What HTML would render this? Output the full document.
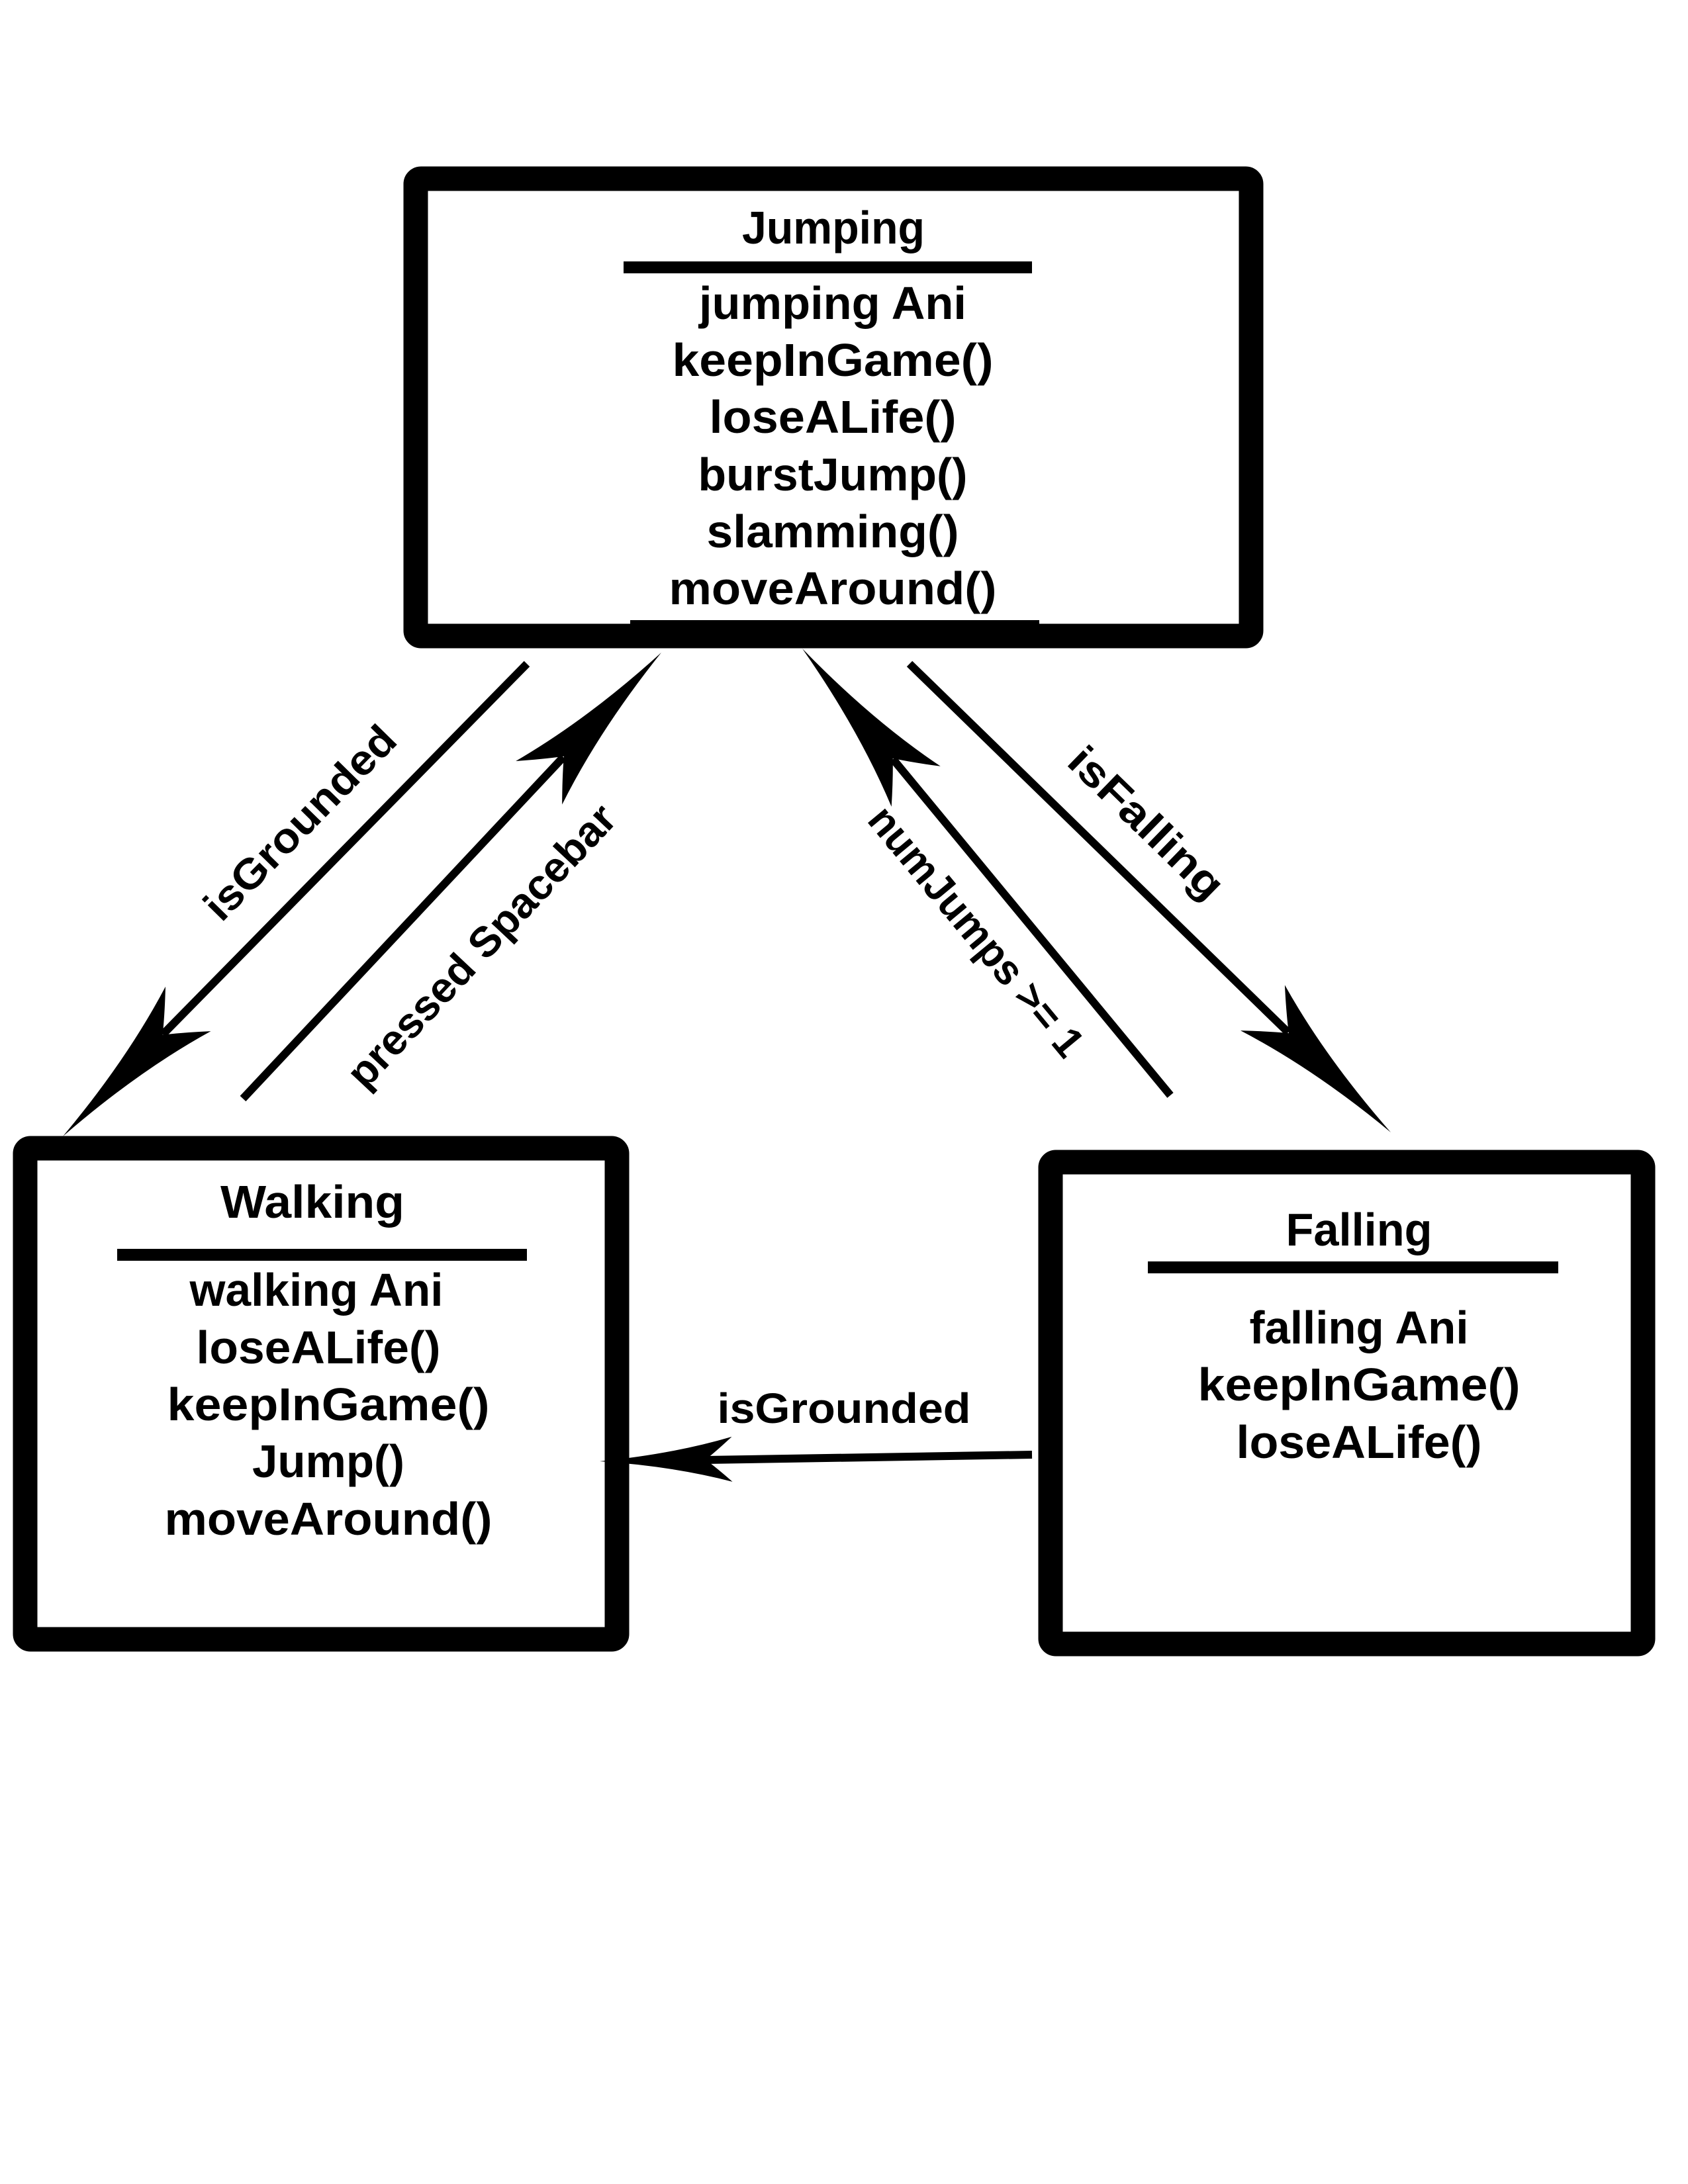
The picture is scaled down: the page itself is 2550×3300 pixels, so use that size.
<!DOCTYPE html>
<html><head><meta charset="utf-8"><style>
html,body{margin:0;padding:0;background:#fff}
svg{display:block}
text{font-family:"Liberation Sans",sans-serif;font-weight:bold;fill:#000}
</style></head><body>
<svg width="2550" height="3300" viewBox="0 0 2550 3300" xmlns="http://www.w3.org/2000/svg">
<defs>
<path id="ah" d="M0,0 Q-150,-12 -270,-48 Q-240,-20 -215,0 Q-240,20 -270,48 Q-150,12 0,0 Z"/>
<path id="ahs" d="M0,0 Q-110,-9 -200,-34 Q-178,-14 -160,0 Q-178,14 -200,34 Q-110,9 0,0 Z"/>
</defs>
<rect x="628" y="270" width="1262" height="691" rx="8" fill="none" stroke="#000" stroke-width="37"/>
<rect x="38" y="1735" width="894" height="742" rx="8" fill="none" stroke="#000" stroke-width="37"/>
<rect x="1587" y="1756" width="895" height="728" rx="8" fill="none" stroke="#000" stroke-width="37"/>

<text x="1259" y="368" font-size="70" text-anchor="middle" textLength="276" lengthAdjust="spacingAndGlyphs">Jumping</text>
<rect x="942" y="395" width="617" height="18"/>
<text x="1258" y="482" font-size="70" text-anchor="middle" textLength="404" lengthAdjust="spacingAndGlyphs">jumping Ani</text>
<text x="1258" y="568" font-size="70" text-anchor="middle" textLength="485" lengthAdjust="spacingAndGlyphs">keepInGame()</text>
<text x="1258" y="654" font-size="70" text-anchor="middle" textLength="373" lengthAdjust="spacingAndGlyphs">loseALife()</text>
<text x="1258" y="741" font-size="70" text-anchor="middle" textLength="407" lengthAdjust="spacingAndGlyphs">burstJump()</text>
<text x="1258" y="827" font-size="70" text-anchor="middle" textLength="381" lengthAdjust="spacingAndGlyphs">slamming()</text>
<text x="1258" y="913" font-size="70" text-anchor="middle" textLength="495" lengthAdjust="spacingAndGlyphs">moveAround()</text>
<rect x="952" y="937" width="618" height="6"/>

<text x="472" y="1840" font-size="70" text-anchor="middle" textLength="278" lengthAdjust="spacingAndGlyphs">Walking</text>
<rect x="177" y="1887" width="619" height="18"/>
<text x="478" y="1973" font-size="70" text-anchor="middle" textLength="383" lengthAdjust="spacingAndGlyphs">walking Ani</text>
<text x="481" y="2060" font-size="70" text-anchor="middle" textLength="369" lengthAdjust="spacingAndGlyphs">loseALife()</text>
<text x="496" y="2146" font-size="70" text-anchor="middle" textLength="487" lengthAdjust="spacingAndGlyphs">keepInGame()</text>
<text x="496" y="2232" font-size="70" text-anchor="middle" textLength="230" lengthAdjust="spacingAndGlyphs">Jump()</text>
<text x="496" y="2319" font-size="70" text-anchor="middle" textLength="495" lengthAdjust="spacingAndGlyphs">moveAround()</text>

<text x="2053" y="1882" font-size="70" text-anchor="middle" textLength="221" lengthAdjust="spacingAndGlyphs">Falling</text>
<rect x="1734" y="1906" width="620" height="18"/>
<text x="2053" y="2030" font-size="70" text-anchor="middle" textLength="331" lengthAdjust="spacingAndGlyphs">falling Ani</text>
<text x="2053" y="2116" font-size="70" text-anchor="middle" textLength="487" lengthAdjust="spacingAndGlyphs">keepInGame()</text>
<text x="2053" y="2203" font-size="70" text-anchor="middle" textLength="371" lengthAdjust="spacingAndGlyphs">loseALife()</text>

<g stroke="#000" stroke-width="12" fill="none">
<line x1="796" y1="1003" x2="246" y2="1563"/>
<line x1="367" y1="1660" x2="851" y2="1144"/>
<line x1="1768" y1="1655" x2="1349" y2="1147"/>
<line x1="1374" y1="1003" x2="1946" y2="1560"/>
<line x1="1559" y1="2198" x2="1066" y2="2206"/>
</g>
<use href="#ah" transform="translate(95,1717) rotate(134.5)"/>
<use href="#ah" transform="translate(999,986) rotate(-46.8)"/>
<use href="#ah" transform="translate(1212,980) rotate(-129.5)"/>
<use href="#ah" transform="translate(2101,1711) rotate(44.2)"/>
<use href="#ahs" transform="translate(906,2208) rotate(179.1)"/>

<text font-size="64" text-anchor="middle" textLength="383" lengthAdjust="spacingAndGlyphs" transform="translate(453,1243) rotate(-45.5)" dy="22">isGrounded</text>
<text font-size="64" text-anchor="middle" textLength="560" lengthAdjust="spacingAndGlyphs" transform="translate(727,1429) rotate(-46.8)" dy="22">pressed Spacebar</text>
<text font-size="64" text-anchor="middle" textLength="470" lengthAdjust="spacingAndGlyphs" transform="translate(1475,1407) rotate(50.4)" dy="22">numJumps &gt;= 1</text>
<text font-size="64" text-anchor="middle" textLength="300" lengthAdjust="spacingAndGlyphs" transform="translate(1732,1243) rotate(44.2)" dy="22">isFalling</text>
<text x="1275" y="2150" font-size="64" text-anchor="middle" textLength="383" lengthAdjust="spacingAndGlyphs">isGrounded</text>
</svg>
</body></html>
